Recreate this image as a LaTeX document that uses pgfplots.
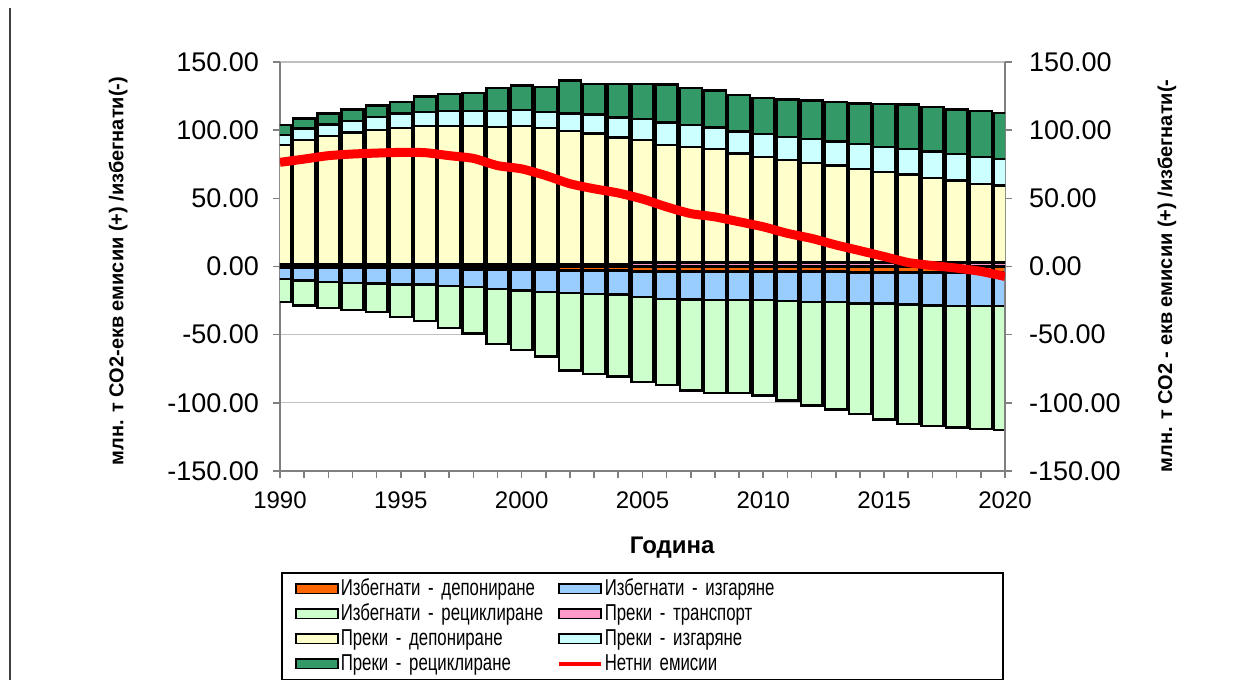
\documentclass[border=0pt]{standalone}
\usepackage{pgfplots}
\pgfplotsset{compat=1.18}
\usepackage{pgfplotstable}
\usepackage{fontspec}
\setmainfont{Liberation Sans}
\newfontfamily\legfont[FakeStretch=0.73]{Liberation Sans}
\definecolor{cOrange}{HTML}{FF6600}
\definecolor{cBlue}{HTML}{99CCFF}
\definecolor{cLGreen}{HTML}{CCFFCC}
\definecolor{cPink}{HTML}{FF99CC}
\definecolor{cYellow}{HTML}{FFFFCC}
\definecolor{cCyan}{HTML}{CCFFFF}
\definecolor{cDGreen}{HTML}{339966}
\definecolor{cAxis}{HTML}{808080}
\definecolor{cGrid}{HTML}{C0C0C0}

\pgfplotstableread{
year T D I R
1990 1.5 87.8 7.3 7.0
1991 1.5 91.2 8.5 7.5
1992 1.5 94.3 8.5 8.0
1993 1.5 96.8 8.4 8.5
1994 1.5 98.7 9.5 8.4
1995 1.5 99.9 10.9 8.3
1996 1.5 101.6 10.2 11.4
1997 1.5 101.6 10.9 12.4
1998 1.5 101.6 10.9 13.1
1999 1.5 100.9 11.6 17.0
2000 1.5 101.6 11.7 18.1
2001 1.5 99.9 12.1 18.2
2002 1.5 98.0 12.8 24.0
2003 1.5 96.0 14.1 22.3
2004 1.5 93.1 14.6 24.7
2005 3.0 89.7 15.3 25.9
2006 3.0 86.3 16.2 27.9
2007 3.0 84.8 15.8 27.4
2008 3.0 83.1 15.8 27.2
2009 3.0 80.0 16.0 26.7
2010 3.0 77.1 16.9 26.7
2011 3.0 75.1 17.0 27.4
2012 3.0 72.7 17.7 28.4
2013 3.0 71.0 17.7 28.9
2014 3.0 68.6 18.2 29.8
2015 3.0 66.1 18.7 31.3
2016 3.0 64.4 18.7 32.8
2017 3.0 62.0 19.4 32.5
2018 3.0 60.1 19.4 32.7
2019 3.0 57.7 19.8 33.5
2020 3.0 56.4 19.4 34.0
}\postab

\pgfplotstableread{
year O B L
1990 -1.2 -8.0 -17.0
1991 -1.2 -9.0 -18.4
1992 -1.2 -10.0 -19.1
1993 -1.2 -10.7 -20.1
1994 -1.2 -11.4 -20.9
1995 -1.2 -12.1 -23.6
1996 -1.2 -12.1 -26.7
1997 -1.2 -12.9 -30.8
1998 -2.2 -12.8 -34.0
1999 -2.2 -14.3 -40.5
2000 -2.2 -15.3 -43.6
2001 -2.2 -16.5 -47.3
2002 -3.0 -16.4 -57.0
2003 -3.0 -17.1 -58.7
2004 -3.0 -17.6 -60.2
2005 -3.6 -18.8 -62.2
2006 -3.6 -20.2 -63.1
2007 -3.6 -20.7 -66.7
2008 -3.6 -21.1 -68.0
2009 -3.6 -21.1 -68.0
2010 -3.6 -21.1 -69.9
2011 -3.6 -21.9 -72.8
2012 -3.6 -22.6 -75.7
2013 -3.6 -22.6 -78.6
2014 -4.5 -22.7 -81.2
2015 -4.5 -22.7 -85.1
2016 -4.5 -23.4 -87.8
2017 -4.5 -24.1 -88.6
2018 -4.5 -24.6 -89.0
2019 -4.5 -24.6 -90.3
2020 -4.5 -24.6 -91.0
}\negtab

\pgfplotstableread{
year net
1990 76.4
1991 78.8
1992 81.3
1993 82.5
1994 83.2
1995 83.7
1996 83.5
1997 81.3
1998 79.3
1999 74.0
2000 71.6
2001 66.7
2002 60.7
2003 57.0
2004 53.9
2005 49.5
2006 43.7
2007 38.8
2008 36.4
2009 32.8
2010 29.1
2011 24.3
2012 20.6
2013 15.8
2014 11.6
2015 7.3
2016 2.9
2017 0.7
2018 -1.2
2019 -3.6
2020 -7.3
}\nettab

\newcommand\ytfont{\fontsize{13.5}{15}\selectfont}
\newcommand\xtfont{\fontsize{12}{14}\selectfont}
\newcommand\lgfont{\legfont\fontsize{11.5}{12}\selectfont\spaceskip=1.4pt\relax}

\pgfplotsset{
  boxleg/.style={legend image code/.code={\draw[##1,line width=0.8pt] (0pt,-2.4pt) rectangle (21pt,2.4pt);}},
  lineleg/.style={legend image code/.code={\draw[##1] (0pt,0pt) -- (21pt,0pt);}},
  base/.style={
    scale only axis, width=362.5pt, height=204.5pt,
    at={(0,0)}, anchor=south west,
    xmin=1990, xmax=2020, ymin=-150, ymax=150,
    ytick={-150,-100,...,150},
    xtick={1990,1995,...,2020},
    minor xtick={1990,...,2020},
    tick align=outside,
    major tick length=3.5pt, minor tick length=3.5pt,
    axis line style={cAxis, line width=0.8pt},
    tick style={cAxis, line width=0.8pt},
    /pgf/number format/assume math mode=true,
    yticklabel style={font=\ytfont, /pgf/number format/fixed, /pgf/number format/fixed zerofill, /pgf/number format/precision=2},
    xticklabel style={font=\xtfont, yshift=-3.5pt, /pgf/number format/1000 sep={}},
  },
  bars/.style={fill=#1, draw=black, line width=1.2pt},
}

\begin{document}
\begin{tikzpicture}
\useasboundingbox (-140pt,-104.5pt) rectangle (487pt,235.5pt);

% negative stack, left axis, x axis, grid
\begin{axis}[base,
  axis y line*=left, axis x line*=bottom,
  yticklabel style={xshift=-3.5pt},
  ymajorgrids, grid style={cGrid, line width=0.6pt},
  ybar stacked, bar width=0.9,
  xlabel={Година},
  xlabel style={at={(axis description cs:0.541,-0.188)}, anchor=center, font=\bfseries\fontsize{12}{14}\selectfont},
  ylabel={млн. т СО2-екв емисии (+) /избегнати(-)},
  ylabel style={at={(axis description cs:-0.2234,0.489)}, anchor=center, font=\bfseries\fontsize{10}{12}\selectfont},
]
\addplot[bars=cOrange] table[x=year,y=O]{\negtab};
\addplot[bars=cBlue] table[x=year,y=B]{\negtab};
\addplot[bars=cLGreen] table[x=year,y=L]{\negtab};
\end{axis}

% positive stack, right axis, legend
\begin{axis}[base,
  axis y line*=right, axis x line=none,
  yticklabel style={xshift=5pt},
  ybar stacked, bar width=0.9,
  ylabel={млн. т СО2 - екв емисии (+) /избегнати(-},
  ylabel style={at={(axis description cs:1.2234,0.477)}, anchor=center, rotate=0, font=\bfseries\fontsize{10}{12}\selectfont},
  legend columns=2,
  legend style={at={(0.5,-0.247)}, anchor=north, draw=black, line width=0.75pt,
    font=\lgfont,
    inner xsep=6.5pt, inner ysep=1.75pt, row sep=0pt,
    nodes={inner xsep=1pt, inner ysep=0pt, minimum height=12.5pt, anchor=west},
    /tikz/column 2/.style={nodes={text width=107pt}},
    /tikz/column 4/.style={nodes={text width=191.5pt}},
  },
]
\addlegendimage{boxleg, fill=cOrange, draw=black}
\addlegendentry{Избегнати - депониране}
\addlegendimage{boxleg, fill=cBlue, draw=black}
\addlegendentry{Избегнати - изгаряне}
\addlegendimage{boxleg, fill=cLGreen, draw=black}
\addlegendentry{Избегнати - рециклиране}
\addplot[boxleg, bars=cPink] table[x=year,y=T]{\postab};
\addlegendentry{Преки - транспорт}
\addplot[boxleg, bars=cYellow] table[x=year,y=D]{\postab};
\addlegendentry{Преки - депониране}
\addplot[boxleg, bars=cCyan] table[x=year,y=I]{\postab};
\addlegendentry{Преки - изгаряне}
\addplot[boxleg, bars=cDGreen] table[x=year,y=R]{\postab};
\addlegendentry{Преки - рециклиране}
\addlegendimage{lineleg, red, line width=2pt}
\addlegendentry{Нетни емисии}
\end{axis}

% net emissions line
\begin{axis}[base, hide axis]
\addplot[red, line width=4.5pt, smooth, tension=0.4, line join=round] table[x=year,y=net]{\nettab};
\end{axis}

\draw[black!75, line width=0.75pt] (-135pt,231.5pt) -- (-135pt,-104.5pt);
\end{tikzpicture}
\end{document}
